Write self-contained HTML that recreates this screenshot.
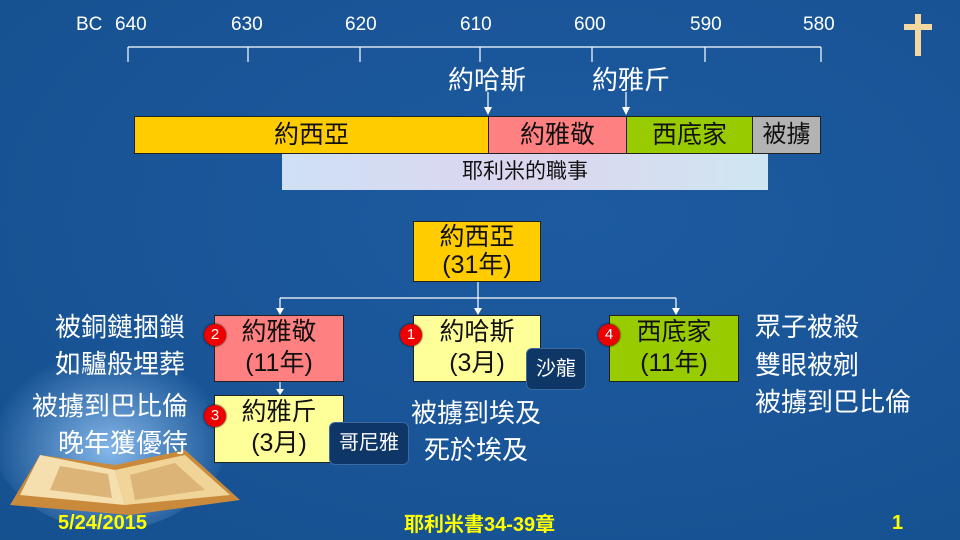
<!DOCTYPE html>
<html><head><meta charset="utf-8"><style>
body{margin:0}
#s{position:relative;width:960px;height:540px;overflow:hidden;background:radial-gradient(ellipse at 60% 40%,#1d5aa0,#15508f);font-family:"Liberation Sans","Noto Sans CJK TC",sans-serif;}
.a{position:absolute;}
.t{color:#fff;font-size:19px;}
.c{color:#fff;font-size:26px;white-space:nowrap}
.bx{position:absolute;border:1px solid #222;box-sizing:border-box;text-align:center;font-size:25px;color:#111;line-height:31px;padding-top:1px;white-space:nowrap}
.badge{position:absolute;background:#0e3767;border:1px solid #3a6aa0;border-radius:6px;color:#fff;font-size:20px;text-align:center;box-sizing:border-box;white-space:nowrap}
.num{position:absolute;width:22px;height:22px;border-radius:50%;background:#e00;color:#fff;font-size:15px;text-align:center;line-height:22px;box-shadow:0 0 2px #000}
.seg{position:absolute;top:116px;height:38px;border:1px solid #222;box-sizing:border-box;text-align:center;font-size:25px;line-height:36px;color:#111}
.y{color:#ff0;font-weight:bold;font-size:20px}
</style></head><body><div id="s">
<svg class="a" style="left:0;top:0" width="960" height="540">
<defs><radialGradient id="g" cx="0.5" cy="0.6" r="0.5"><stop offset="0" stop-color="#9fd0ff" stop-opacity=".8"/><stop offset="1" stop-color="#9fd0ff" stop-opacity="0"/></radialGradient></defs>
<ellipse cx="110" cy="430" rx="120" ry="100" fill="url(#g)"/>
<g stroke="#fff" stroke-width="1.2" fill="none">
<line x1="128" y1="47" x2="821" y2="47"/>
<line x1="128" y1="47" x2="128" y2="62"/><line x1="248" y1="47" x2="248" y2="62"/><line x1="360" y1="47" x2="360" y2="62"/><line x1="480" y1="47" x2="480" y2="62"/><line x1="592" y1="47" x2="592" y2="62"/><line x1="705" y1="47" x2="705" y2="62"/><line x1="821" y1="47" x2="821" y2="62"/>
<line x1="488" y1="92" x2="488" y2="114"/><line x1="626" y1="92" x2="626" y2="114"/>
<line x1="478" y1="282" x2="478" y2="310"/><line x1="280" y1="298" x2="676" y2="298"/>
<line x1="280" y1="298" x2="280" y2="310"/><line x1="676" y1="298" x2="676" y2="310"/>
<line x1="280" y1="382" x2="280" y2="392"/>
</g>
<g fill="#fff">
<path d="M484,107 L492,107 L488,115Z"/><path d="M622,107 L630,107 L626,115Z"/>
<path d="M474,308 L482,308 L478,315Z"/><path d="M276,308 L284,308 L280,315Z"/><path d="M672,308 L680,308 L676,315Z"/><path d="M276,389 L284,389 L280,395Z"/>
</g>
<rect x="915" y="14" width="6" height="42" fill="#f3d9a0"/><rect x="904" y="24" width="28" height="6" fill="#f3d9a0"/>
<g>
<path d="M10,505 L40,455 L115,465 L185,450 L240,500 L130,515Z" fill="#c98a3c"/>
<path d="M40,455 L115,470 L125,505 L20,495Z" fill="#f5dfae"/>
<path d="M125,505 L115,470 L185,455 L230,495Z" fill="#f0d498"/>
<path d="M60,466 L108,474 L112,498 L50,490Z" fill="#dcb477"/>
<path d="M130,475 L175,463 L205,490 L135,500Z" fill="#dcb477"/>
</g>
</svg>
<div class="a t" style="left:76px;top:14px">BC</div>
<div class="a t" style="left:115px;top:14px">640</div>
<div class="a t" style="left:231px;top:14px">630</div>
<div class="a t" style="left:345px;top:14px">620</div>
<div class="a t" style="left:460px;top:14px">610</div>
<div class="a t" style="left:574px;top:14px">600</div>
<div class="a t" style="left:690px;top:14px">590</div>
<div class="a t" style="left:803px;top:14px">580</div>
<div class="a c" style="left:448px;top:60px">約哈斯</div>
<div class="a c" style="left:592px;top:60px">約雅斤</div>
<div class="seg" style="left:134px;width:355px;background:#ffcc00">約西亞</div>
<div class="seg" style="left:488px;width:139px;background:#ff8080">約雅敬</div>
<div class="seg" style="left:626px;width:127px;background:#99cc00">西底家</div>
<div class="seg" style="left:752px;width:69px;background:#b3b3b3;font-size:24px">被擄</div>
<div class="a" style="left:282px;top:154px;width:486px;height:36px;background:linear-gradient(90deg,#cfe0f5,#dcd6ef,#cfe6f2);text-align:center;font-size:21px;line-height:36px;color:#111">耶利米的職事</div>
<div class="bx" style="left:413px;top:221px;width:128px;height:61px;background:#ffcc00;line-height:28px">約西亞<br>(31年)</div>
<div class="bx" style="left:214px;top:315px;width:130px;height:67px;background:#ff8080">約雅敬<br>(11年)</div>
<div class="bx" style="left:413px;top:315px;width:128px;height:67px;background:#ffff99">約哈斯<br>(3月)</div>
<div class="bx" style="left:609px;top:315px;width:130px;height:67px;background:#99cc00">西底家<br>(11年)</div>
<div class="bx" style="left:214px;top:395px;width:130px;height:68px;background:#ffff99">約雅斤<br>(3月)</div>
<div class="num" style="left:204px;top:324px">2</div>
<div class="num" style="left:400px;top:324px">1</div>
<div class="num" style="left:598px;top:324px">4</div>
<div class="num" style="left:204px;top:405px">3</div>
<div class="badge" style="left:526px;top:348px;width:60px;height:42px;line-height:40px">沙龍</div>
<div class="badge" style="left:329px;top:422px;width:80px;height:43px;line-height:41px">哥尼雅</div>
<div class="a c" style="right:775px;top:309px;text-align:right;line-height:37px">被銅鏈捆鎖<br>如驢般埋葬</div>
<div class="a c" style="right:772px;top:388px;text-align:right;line-height:37px">被擄到巴比倫<br>晚年獲優待</div>
<div class="a c" style="left:755px;top:309px;line-height:37.5px">眾子被殺<br>雙眼被剜<br>被擄到巴比倫</div>
<div class="a c" style="left:411px;top:393px">被擄到埃及</div>
<div class="a c" style="left:424px;top:430px">死於埃及</div>
<div class="a y" style="left:58px;top:512px">5/24/2015</div>
<div class="a y" style="left:404px;top:508px">耶利米書34-39章</div>
<div class="a y" style="left:892px;top:512px">1</div>
</div></body></html>
